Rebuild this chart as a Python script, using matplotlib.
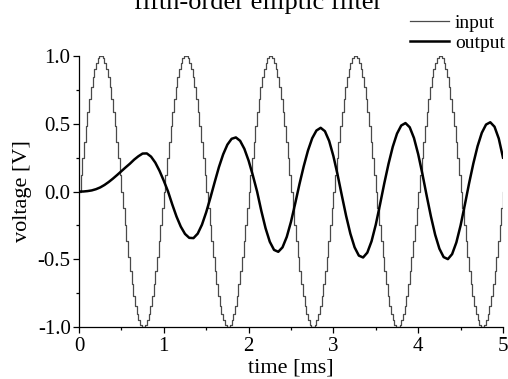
import numpy as np
import matplotlib
matplotlib.use('Agg')
import matplotlib.pyplot as plt
from matplotlib.ticker import MultipleLocator, FormatStrFormatter

plt.rcParams['font.family'] = ['Liberation Serif', 'DejaVu Serif']
plt.rcParams['axes.unicode_minus'] = False

# input: sampled 1 kHz sine, one period of samples (20 us hold), repeated 5 times
in_dt = 0.02
in_period = [0.000, 0.125, 0.249, 0.368, 0.482, 0.588, 0.685, 0.771, 0.844, 0.905,
             0.951, 0.982, 0.998, 0.998, 0.982, 0.951, 0.905, 0.844, 0.771, 0.685,
             0.588, 0.482, 0.368, 0.249, 0.125, 0.000, -0.125, -0.249, -0.368, -0.482,
             -0.588, -0.685, -0.771, -0.844, -0.905, -0.951, -0.982, -0.998, -0.998, -0.982,
             -0.951, -0.905, -0.844, -0.771, -0.685, -0.588, -0.482, -0.368, -0.249, -0.125]
n_periods = 5

# output of the filter, read every 0.05 ms
out_dt = 0.05
out_vals = [0.000, 0.000, 0.003, 0.008, 0.017, 0.030, 0.048, 0.070, 0.095, 0.122,
            0.150, 0.178, 0.205, 0.235, 0.260, 0.280, 0.281, 0.257, 0.213, 0.152,
            0.079, 0.000, -0.096, -0.185, -0.259, -0.313, -0.342, -0.344, -0.311, -0.245,
            -0.153, -0.045, 0.069, 0.180, 0.274, 0.346, 0.389, 0.399, 0.374, 0.315,
            0.228, 0.119, 0.000, -0.143, -0.271, -0.371, -0.431, -0.445, -0.412, -0.335,
            -0.223, -0.087, 0.055, 0.186, 0.302, 0.393, 0.450, 0.470, 0.445, 0.373,
            0.261, 0.122, -0.031, -0.180, -0.311, -0.412, -0.473, -0.487, -0.451, -0.367,
            -0.244, -0.095, 0.060, 0.204, 0.330, 0.427, 0.487, 0.505, 0.474, 0.395,
            0.275, 0.128, -0.031, -0.184, -0.319, -0.422, -0.484, -0.499, -0.462, -0.376,
            -0.250, -0.098, 0.060, 0.206, 0.334, 0.433, 0.494, 0.511, 0.478, 0.391,
            0.250]

v_in = np.append(np.tile(in_period, n_periods), in_period[0])
t_in = np.arange(len(v_in)) * in_dt
v_out = np.array(out_vals)
t_out = np.arange(len(v_out)) * out_dt

fig = plt.figure(figsize=(5.08, 3.79), dpi=100)
ax = fig.add_axes([79/508, 52/379, 424/508, 271/379])

l_in, = ax.plot(t_in, v_in, drawstyle='steps-post', color='#4a4a4a', lw=0.9)
l_out, = ax.plot(t_out, v_out, color='black', lw=1.8)

ax.set_xlim(0, 5)
ax.set_ylim(-1, 1)
for s in ['top', 'right']:
    ax.spines[s].set_visible(False)
for s in ['left', 'bottom']:
    ax.spines[s].set_linewidth(0.9)

ax.xaxis.set_major_locator(MultipleLocator(1))
ax.xaxis.set_minor_locator(MultipleLocator(0.5))
ax.yaxis.set_major_locator(MultipleLocator(0.5))
ax.yaxis.set_minor_locator(MultipleLocator(0.25))
ax.yaxis.set_major_formatter(FormatStrFormatter('%.1f'))
ax.tick_params(which='major', direction='out', length=4.5, width=0.9, labelsize=15, pad=1.5)
ax.tick_params(which='minor', direction='out', length=2.5, width=0.9)
ax.tick_params(axis='x', which='major', pad=3)

ax.set_xlabel('time [ms]', fontsize=16, labelpad=1.5)
ax.set_ylabel('voltage [V]', fontsize=16, labelpad=4)

fig.text(0.508, 1 - 9/379, 'fifth-order elliptic filter', fontsize=19,
         ha='center', va='baseline')

fig.legend([l_in, l_out], ['input', 'output'], loc='upper right',
           bbox_to_anchor=(505/508, 1 - 14/379), frameon=False, fontsize=14,
           handlelength=2.0, handletextpad=0.3, labelspacing=0.15,
           borderpad=0, borderaxespad=0)

fig.savefig('out.png', dpi=100)
